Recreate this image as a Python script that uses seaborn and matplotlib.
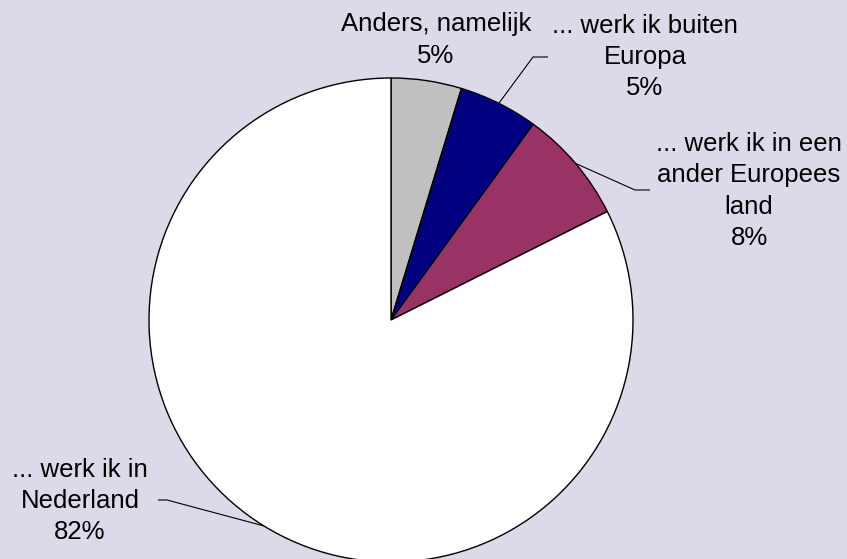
import numpy as np
import matplotlib
matplotlib.use("Agg")
import matplotlib.pyplot as plt
import seaborn as sns

# Data (clockwise from 12 o'clock)
labels = ["Anders, namelijk", "... werk ik buiten\nEuropa",
          "... werk ik in een\nander Europees\nland", "... werk ik in\nNederland"]
values = [4.7, 5.3, 7.6, 82.4]
colors = ["#C0C0C0", "#000080", "#993366", "#FFFFFF"]

BG = "#DCDAE8"
W, H = 847, 559

sns.set_theme(style="white")
plt.rcParams["font.family"] = ["Liberation Sans", "DejaVu Sans"]

fig = plt.figure(figsize=(W / 100, H / 100), dpi=100, facecolor=BG)
ax = fig.add_axes([0, 0, 1, 1])
ax.set_facecolor(BG)

cx, cy, r = 391, H - 320, 242
wedges, _ = ax.pie(values, colors=colors, startangle=90, counterclock=False,
                   center=(cx, cy), radius=r, frame=True,
                   wedgeprops={"edgecolor": "black", "linewidth": 1.0})
ax.set_xlim(0, W)
ax.set_ylim(0, H)
ax.set_aspect("equal")
ax.axis("off")

# label placement: (text x, text y (from top), elbow x, elbow y, end x) ; None = no leader
place = [
    (436, 40, None, None, None),
    (645, 57, 533, 57, 548),
    (749, 191, 635, 190, 650),
    (80, 501, 167, 500, 158),
]

for w, lab, v, (tx, ty, ex, ey, hx) in zip(wedges, labels, values, place):
    ax.text(tx, H - ty, f"{lab}\n{round(v):.0f}%", ha="center", va="center",
            fontsize=18.5, linespacing=1.38, color="black")
    if ex is None:
        continue
    mid = np.deg2rad((w.theta1 + w.theta2) / 2)
    sx, sy = cx + r * np.cos(mid), cy + r * np.sin(mid)
    ax.plot([sx, ex, hx], [sy, H - ey, H - ey], color="black", lw=0.8,
            solid_capstyle="butt")

fig.savefig("out.png", dpi=100, facecolor=BG)
